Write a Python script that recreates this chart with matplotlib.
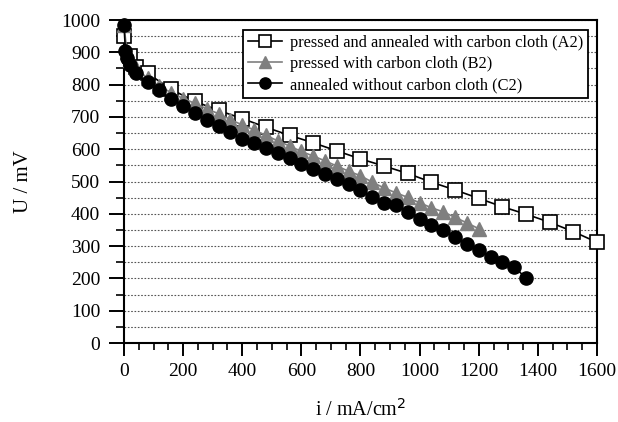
import matplotlib.pyplot as plt
from matplotlib.ticker import MultipleLocator

plt.rcParams['font.family'] = ['Liberation Serif', 'DejaVu Serif']

# polarisation curves, current density in mA/cm2, cell voltage in mV
i_a2 = [0, 20, 40, 80, 160, 240, 320, 400, 480, 560, 640, 720, 800,
        880, 960, 1040, 1120, 1200, 1280, 1360, 1440, 1520, 1600]
u_a2 = [950, 890, 855, 835, 785, 748, 720, 695, 668, 643, 620, 595, 570,
        548, 525, 498, 474, 448, 422, 399, 374, 345, 312]

i_b2 = [0, 10, 20, 40, 80, 120, 160, 200, 240, 280, 320, 360, 400, 440,
        480, 520, 560, 600, 640, 680, 720, 760, 800, 840, 880, 920, 960,
        1000, 1040, 1080, 1120, 1160, 1200]
u_b2 = [985, 900, 875, 850, 820, 795, 775, 757, 742, 725, 710, 692, 675, 660,
        643, 626, 610, 593, 579, 564, 548, 532, 518, 498, 480, 465, 451,
        434, 419, 406, 389, 372, 354]

i_c2 = [0, 5, 10, 20, 40, 80, 120, 160, 200, 240, 280, 320, 360, 400, 440,
        480, 520, 560, 600, 640, 680, 720, 760, 800, 840, 880, 920, 960,
        1000, 1040, 1080, 1120, 1160, 1200, 1240, 1280, 1320, 1360]
u_c2 = [985, 905, 882, 860, 835, 808, 783, 755, 734, 712, 692, 673, 652, 632, 618,
        605, 588, 573, 555, 540, 524, 507, 491, 474, 453, 435, 428, 406,
        385, 367, 349, 327, 306, 288, 266, 252, 236, 201]

labels = ['pressed and annealed with carbon cloth (A2)',
          'pressed with carbon cloth (B2)',
          'annealed without carbon cloth (C2)']

fig = plt.figure(figsize=(6.18, 4.22), dpi=100)
ax = fig.add_axes([0.2006, 0.187, 0.7654, 0.7656])

ax.plot(i_a2, u_a2, color='black', lw=1.2, marker='s', ms=10,
        mfc='white', mec='black', mew=1.2, label=labels[0], zorder=3, clip_on=False)
ax.plot(i_b2, u_b2, color='#7f7f7f', lw=1.2, marker='^', ms=10,
        mfc='#7f7f7f', mec='#7f7f7f', label=labels[1], zorder=4, clip_on=False)
ax.plot(i_c2, u_c2, color='black', lw=1.2, marker='o', ms=9.5,
        mfc='black', mec='black', label=labels[2], zorder=5, clip_on=False)

ax.set_xlim(0, 1600)
ax.set_ylim(0, 1000)
ax.xaxis.set_major_locator(MultipleLocator(200))
ax.xaxis.set_minor_locator(MultipleLocator(50))
ax.yaxis.set_major_locator(MultipleLocator(100))
ax.yaxis.set_minor_locator(MultipleLocator(50))

# dotted horizontal rules every 50 mV
ax.grid(True, which='both', axis='y', color='#555555', ls=(0, (1.5, 1.5)), lw=0.8)
ax.set_axisbelow(True)

ax.tick_params(which='both', direction='out', colors='black', labelsize=14)
ax.tick_params(axis='y', which='major', length=11, width=1.4, pad=6)
ax.tick_params(axis='y', which='minor', length=6, width=1.2)
ax.tick_params(axis='x', which='major', length=9, width=1.4, pad=5)
ax.tick_params(axis='x', which='minor', length=5, width=1.2)
for s in ax.spines.values():
    s.set_linewidth(1.5)

ax.set_xlabel('i / mA/cm$^2$', fontsize=14.5, labelpad=14)
ax.set_ylabel('U / mV', fontsize=15, labelpad=20)

leg = ax.legend(loc='upper right', bbox_to_anchor=(0.982, 0.97), fontsize=11.8,
                frameon=True, fancybox=False, edgecolor='black', framealpha=1,
                handlelength=2.1, handletextpad=0.5, borderpad=0.3,
                labelspacing=0.32, borderaxespad=0, markerscale=0.85)
leg.get_frame().set_linewidth(1.3)

fig.savefig('out.png', dpi=100)
